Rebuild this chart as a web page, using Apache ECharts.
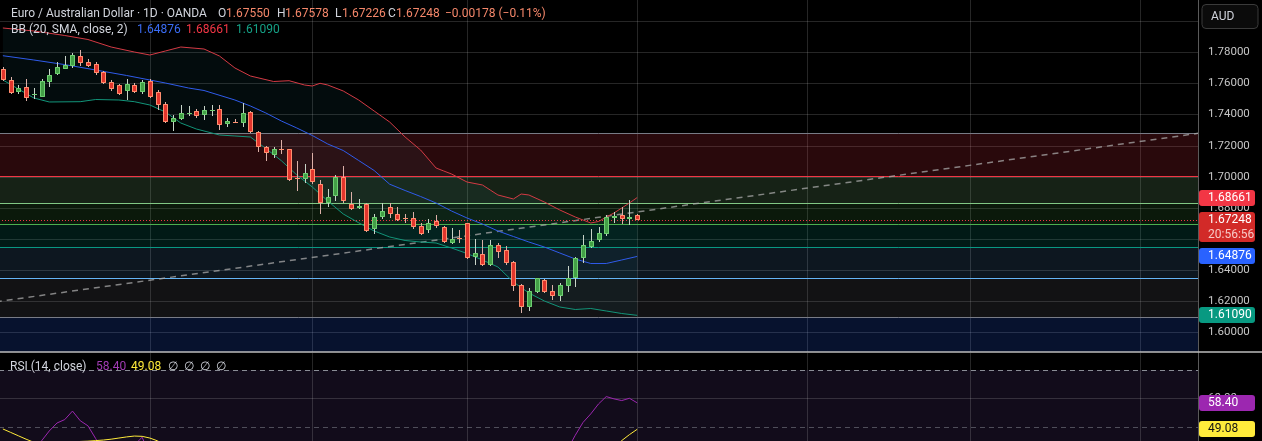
<!DOCTYPE html>
<html>
<head>
<meta charset="utf-8">
<script src="https://cdn.jsdelivr.net/npm/echarts@6/dist/echarts.min.js"></script>
<style>
html,body{margin:0;padding:0;background:#000;overflow:hidden;}
#chart{width:1262px;height:441px;}
</style>
</head>
<body>
<div id="chart"></div>
<script>
// ---------------- DATA ----------------
const SLOTS = 155;
const monthStartIdx = [19, 40, 60, 82, 104, 125, 147];
const priceTicks = [1.60, 1.62, 1.64, 1.66, 1.68, 1.70, 1.72, 1.74, 1.76, 1.78, 1.80];
const priceTickLabels = ['1.60000','1.62000','1.64000','1.66000','1.68000','1.70000','1.72000','1.74000','1.76000','1.78000','1.80000'];
const rsiTicks = [60];
const rsiTickLabels = ['60.00'];
const rsiBandLevels = [70, 50, 30];

const candleOpen = [1.76902,1.76215,1.75463,1.75746,1.75290,1.75141,1.76105,1.76600,1.76941,1.77134,
1.77757,1.77352,1.77224,1.76729,1.76086,1.75893,1.75527,1.75874,1.75443,1.76131,
1.75443,1.74672,1.73496,1.73689,1.74055,1.74209,1.73946,1.74255,1.74332,1.73374,
1.73535,1.73470,1.74171,1.72886,1.71889,1.71382,1.71772,1.71761,1.69890,1.69833,
1.70476,1.69531,1.68329,1.68760,1.69961,1.68226,1.67988,1.68226,1.66620,1.67391,
1.68033,1.67584,1.67332,1.67326,1.66832,1.66575,1.67153,1.66748,1.65758,1.66046,
1.67005,1.64820,1.65032,1.64325,1.65611,1.65289,1.64537,1.63040,1.61645,1.62609,
1.63361,1.62654,1.62333,1.62976,1.63470,1.64756,1.65463,1.65932,1.66298,1.67326,
1.67539,1.67262,1.67550];
const candleHigh = [1.77050,1.76388,1.75893,1.76260,1.75681,1.76247,1.76902,1.77391,1.77757,1.77931,
1.78143,1.77545,1.77391,1.76812,1.76215,1.75958,1.76260,1.76003,1.76215,1.76260,
1.75572,1.74820,1.73997,1.74608,1.74544,1.74364,1.74557,1.74576,1.74589,1.73773,
1.73740,1.74737,1.74235,1.72937,1.71954,1.71928,1.72359,1.71812,1.71041,1.70835,
1.71504,1.69788,1.69190,1.70109,1.70688,1.69036,1.68548,1.68290,1.67603,1.68290,
1.68290,1.68033,1.67603,1.67751,1.67044,1.67262,1.67539,1.66832,1.66684,1.66575,
1.67044,1.65977,1.65932,1.65932,1.65758,1.65546,1.64602,1.63104,1.62828,1.63490,
1.63406,1.63040,1.63149,1.64261,1.64859,1.66253,1.66620,1.66787,1.67539,1.67751,
1.68072,1.68503,1.67578];
const candleLow = [1.76150,1.75296,1.75315,1.74884,1.74974,1.75090,1.75784,1.76536,1.76902,1.76967,
1.77114,1.77069,1.76555,1.75958,1.75527,1.75251,1.74929,1.75398,1.75315,1.75058,
1.74287,1.73470,1.72956,1.73625,1.73901,1.73798,1.73625,1.73901,1.73021,1.73175,
1.73432,1.73175,1.72789,1.71587,1.71028,1.71170,1.71459,1.69743,1.69049,1.69576,
1.69550,1.67603,1.68033,1.68458,1.68329,1.67860,1.67905,1.66465,1.66317,1.67281,
1.67326,1.67134,1.67044,1.66620,1.66234,1.66401,1.66722,1.65720,1.65675,1.65720,
1.64692,1.64325,1.64261,1.64261,1.64756,1.64325,1.62674,1.61260,1.61388,1.62545,
1.62506,1.62076,1.62031,1.62609,1.62931,1.64473,1.65398,1.65823,1.66208,1.67044,
1.66960,1.66896,1.67226];
const candleClose = [1.76215,1.75360,1.75681,1.75039,1.75300,1.76170,1.76536,1.77031,1.77159,1.77821,
1.77326,1.77134,1.76684,1.76003,1.75656,1.75296,1.75958,1.75443,1.76086,1.75103,
1.74589,1.73515,1.73760,1.74107,1.74068,1.73901,1.74287,1.74265,1.73323,1.73593,
1.73522,1.74075,1.72841,1.71909,1.71555,1.71761,1.71762,1.69788,1.69878,1.70219,
1.69679,1.68310,1.68676,1.70000,1.68458,1.67924,1.68117,1.66530,1.67391,1.67796,
1.67584,1.67217,1.67320,1.66748,1.66317,1.67005,1.66832,1.65803,1.65996,1.66036,
1.64756,1.65077,1.64325,1.65611,1.65180,1.64434,1.62995,1.61645,1.62674,1.63470,
1.62609,1.62352,1.63040,1.63470,1.64756,1.65611,1.65887,1.66401,1.67429,1.67494,
1.67262,1.67426,1.67248];

const bbUpperIdx = [0,4,8,11,14,17,19,21,23,26,28,30,32,35,37,39,40,41,42,44,46,48,50,52,54,56,57,58,60,62,63,64,66,67,68,70,72,74,76,77,78,79,80,81,82];
const bbUpperVal = [1.79557,1.79364,1.79075,1.78817,1.78335,1.78014,1.77821,1.78078,1.78335,1.78207,
1.77757,1.76986,1.76472,1.76118,1.76170,1.75893,1.75829,1.76003,1.75893,1.75508,
1.74929,1.74222,1.73515,1.72551,1.71716,1.70559,1.70366,1.70174,1.69659,1.69467,
1.69145,1.68824,1.68567,1.68888,1.68824,1.68374,1.67860,1.67410,1.67024,1.67121,
1.67410,1.67667,1.67988,1.68310,1.68661];
const bbMidIdx = [0,4,8,12,16,19,21,24,26,30,32,34,36,38,40,42,44,46,48,50,52,54,56,58,60,62,64,66,68,70,72,74,76,78,80,82];
const bbMidVal = [1.77776,1.77500,1.77204,1.76857,1.76504,1.76215,1.76022,1.75700,1.75540,1.74929,
1.74544,1.74094,1.73580,1.73130,1.72648,1.72102,1.71684,1.71041,1.70398,1.69518,
1.69113,1.68728,1.68310,1.67796,1.67346,1.66960,1.66510,1.66157,1.65803,1.65482,
1.65096,1.64711,1.64422,1.64422,1.64647,1.64876];
const bbLowIdx = [0,2,4,6,10,12,15,17,19,21,23,25,28,30,32,34,36,38,40,42,44,46,48,50,52,54,56,58,60,62,64,66,68,70,72,74,76,78,80,82];
const bbLowVal = [1.76215,1.75636,1.75058,1.74801,1.74820,1.74961,1.74929,1.74820,1.74608,1.74158,
1.73451,1.73066,1.72680,1.72616,1.72551,1.71812,1.71028,1.70109,1.69338,1.68438,
1.67603,1.67037,1.66510,1.66125,1.65900,1.65803,1.65739,1.65418,1.65064,1.64647,
1.64197,1.63233,1.62526,1.62012,1.61626,1.61465,1.61530,1.61369,1.61208,1.61090];

const fibLevels = [1.7281, 1.7002, 1.6829, 1.6695, 1.6551, 1.6352, 1.6098, 1.5367];
const fibStartIdx = -15;
const trendStart = [-15, 1.6098];
const trendEnd = [155, 1.7282];

const rsiVal = [40,38,39,37,40,45,48.5,51.3,52.5,55.5,
52.1,50.3,45.8,41,38,37,42,43.5,46.3,40,
36,31,33,36,36,35,37,37,33,34,
34,38,32,28,27,29,30,24,25,28,
27,23,26,33,31,29,30,26,30,32,
31,30,30,28,27,30,30,27,28,28,
25,27,25,31,30,28,24,21,27,31,
29,28,32,42,47,51.5,54.5,58,60.6,59.8,
59.2,60,58.4];
const rsiMaVal = [49.2,48.0,46.8,45.6,44.5,43.9,43.6,43.7,44.0,44.4,
44.8,44.9,45.1,45.3,45.6,46.0,46.4,46.7,46.6,46.0,
45.0,43.5,42.3,41.4,40.6,39.6,38.8,38.0,37.0,36.0,
35.0,34.3,33.6,32.8,32.0,31.5,31.0,30.4,29.9,29.6,
29.3,28.9,28.5,28.6,28.6,28.4,28.3,28.0,28.1,28.3,
28.5,28.6,28.7,28.5,28.4,28.6,28.9,28.9,28.9,28.7,
28.5,28.4,28.2,28.3,28.3,28.2,27.9,27.4,27.3,27.4,
27.5,27.6,28.0,29.0,30.5,32.5,35.0,37.6,40.3,42.8,
45.1,47.2,49.08];

const countdownText = '20:56:56';

// ---------------- STYLE ----------------
const PRICE_MIN = 1.58734, PRICE_MAX = 1.81356;
const RSI_MIN = 44.96, RSI_MAX = 75.95;
const PANE_X = -1, PANE_W = 1199;
const GRIDC = 'rgba(255,255,255,0.15)';
const FIB_LINE = ['#787b86','#f23645','#81c784','#4caf50','#089981','#64b5f6','#787b86'];
const FIB_FILL = ['rgba(242,54,69,0.17)','rgba(129,199,132,0.17)','rgba(76,175,80,0.14)','rgba(8,153,129,0.17)','rgba(100,181,246,0.13)','rgba(120,123,134,0.15)','rgba(41,98,255,0.18)'];
const C_UP = '#43a047', C_UP_B = '#6fcf72', C_UP_W = '#c8d4c8';
const C_DN = '#e2352d', C_DN_B = '#ff9070', C_DN_W = '#dcb0a8';
const FONT = 'Roboto, "Open Sans", sans-serif';

const lastClose = candleClose[candleClose.length - 1];
const slots = Array.from({length: SLOTS}, (_, i) => String(i));
const pairs = (idx, val) => idx.map((k, j) => [k, val[j]]);
const candleData = candleOpen.map((o, i) => [i, o, candleHigh[i], candleLow[i], candleClose[i]]);

function crisp(v) { return Math.round(v) + 0.5; }
function txt(x, y, t, fill, font, align) {
  return {type: 'text', x: x, y: y, style: {text: t, fill: fill, font: font,
    align: align || 'left', verticalAlign: 'middle', textAlign: align || 'left', textVerticalAlign: 'middle'}};
}
function hline(x1, x2, y, stroke, dash) {
  return {type: 'line', shape: {x1: x1, y1: y, x2: x2, y2: y}, style: {stroke: stroke, lineWidth: 1, lineDash: dash || null}};
}

function mainBg(params, api) {
  const cs = params.coordSys;
  const L = cs.x, R = cs.x + cs.width, T = cs.y, B = cs.y + cs.height;
  const X = k => api.coord([k, PRICE_MIN])[0];
  const Y = v => api.coord([0, v])[1];
  const ch = [];
  priceTicks.forEach(v => ch.push(hline(L, R, crisp(Y(v)), GRIDC)));
  monthStartIdx.forEach(k => { const x = crisp(X(k)); ch.push({type: 'line', shape: {x1: x, y1: T, x2: x, y2: B}, style: {stroke: GRIDC, lineWidth: 1}}); });
  const poly = [];
  bbUpperIdx.forEach((k, j) => poly.push(api.coord([k, bbUpperVal[j]])));
  for (let j = bbLowIdx.length - 1; j >= 0; j--) poly.push(api.coord([bbLowIdx[j], bbLowVal[j]]));
  ch.push({type: 'polygon', shape: {points: poly}, style: {fill: 'rgba(40,150,170,0.08)'}});
  const fx = X(fibStartIdx);
  for (let j = 0; j < fibLevels.length - 1; j++) {
    const ya = Y(fibLevels[j]), yb = Y(fibLevels[j + 1]);
    ch.push({type: 'rect', shape: {x: fx, y: ya, width: R - fx, height: yb - ya}, style: {fill: FIB_FILL[j]}});
  }
  for (let j = 0; j < FIB_LINE.length; j++) ch.push(hline(fx, R, crisp(Y(fibLevels[j])), FIB_LINE[j]));
  const p1 = api.coord(trendStart), p2 = api.coord(trendEnd);
  ch.push({type: 'line', shape: {x1: p1[0], y1: p1[1], x2: p2[0], y2: p2[1]}, style: {stroke: 'rgba(170,170,170,0.75)', lineWidth: 1.5, lineDash: [6, 5]}});
  ch.push(hline(L, R, crisp(Y(lastClose)), '#f23645', [1, 2]));
  return {type: 'group', children: ch};
}

function renderCandle(params, api) {
  const k = api.value(0), o = api.value(1), h = api.value(2), l = api.value(3), c = api.value(4);
  const up = c >= o;
  const xc = Math.round(api.coord([k, o])[0]);
  const yO = api.coord([k, o])[1], yC = api.coord([k, c])[1];
  const yH = api.coord([k, h])[1], yL = api.coord([k, l])[1];
  let top = Math.round(Math.min(yO, yC)), bot = Math.round(Math.max(yO, yC));
  if (bot - top < 1) bot = top + 1;
  const ch = [{type: 'line', shape: {x1: xc + 0.5, y1: Math.round(yH), x2: xc + 0.5, y2: Math.round(yL)}, style: {stroke: up ? C_UP_W : C_DN_W, lineWidth: 1}}];
  if (bot - top <= 2) {
    ch.push({type: 'rect', shape: {x: xc - 2, y: top, width: 5, height: bot - top}, style: {fill: up ? C_UP_B : C_DN_B}});
  } else {
    ch.push({type: 'rect', shape: {x: xc - 2, y: top, width: 5, height: bot - top}, style: {fill: up ? C_UP : C_DN}});
    ch.push({type: 'rect', shape: {x: xc - 1.5, y: top + 0.5, width: 4, height: bot - top - 1}, style: {fill: 'none', stroke: up ? C_UP_B : C_DN_B, lineWidth: 1}});
  }
  return {type: 'group', children: ch};
}

function badge(x, y, label, bg, fg) {
  return [{type: 'rect', shape: {x: x, y: Math.round(y) - 8, width: 56, height: 16, r: 3}, style: {fill: bg}},
          txt(x + 9, Math.round(y), label, fg, '12px ' + FONT)];
}

function mainLabels(params, api) {
  const cs = params.coordSys;
  const R = cs.x + cs.width;
  const Y = v => api.coord([0, v])[1];
  let ch = [];
  priceTicks.forEach((v, j) => ch.push(txt(R + 10, Math.round(Y(v)), priceTickLabels[j], '#c5c5c5', '11.5px ' + FONT)));
  ch = ch.concat(badge(R + 1, Y(bbUpperVal[bbUpperVal.length - 1]), bbUpperVal[bbUpperVal.length - 1].toFixed(5), '#f23645', '#ffffff'));
  const yc = Math.round(Y(lastClose));
  ch.push({type: 'rect', shape: {x: R + 1, y: yc - 8, width: 56, height: 30, r: 3}, style: {fill: '#d22a28'}});
  ch.push(txt(R + 10, yc, lastClose.toFixed(5), '#ffffff', '12px ' + FONT));
  ch.push(txt(R + 10, yc + 15, countdownText, '#f6c9c6', '12px ' + FONT));
  ch = ch.concat(badge(R + 1, Y(bbMidVal[bbMidVal.length - 1]), bbMidVal[bbMidVal.length - 1].toFixed(5), '#2962ff', '#ffffff'));
  ch = ch.concat(badge(R + 1, Y(bbLowVal[bbLowVal.length - 1]), bbLowVal[bbLowVal.length - 1].toFixed(5), '#089981', '#ffffff'));
  return {type: 'group', children: ch};
}

function rsiBg(params, api) {
  const cs = params.coordSys;
  const L = cs.x, R = cs.x + cs.width, T = cs.y, B = cs.y + cs.height;
  const X = k => api.coord([k, 50])[0];
  const Y = v => api.coord([0, v])[1];
  const ch = [];
  const y70 = Y(rsiBandLevels[0]), y30 = Y(rsiBandLevels[2]);
  ch.push({type: 'rect', shape: {x: L, y: y70, width: R - L, height: y30 - y70}, style: {fill: 'rgba(126,87,194,0.14)'}});
  rsiTicks.forEach(v => ch.push(hline(L, R, crisp(Y(v)), GRIDC)));
  monthStartIdx.forEach(k => { const x = crisp(X(k)); ch.push({type: 'line', shape: {x1: x, y1: T, x2: x, y2: B}, style: {stroke: GRIDC, lineWidth: 1}}); });
  ch.push(hline(L, R, crisp(y70), '#8a8d96', [5, 4]));
  ch.push(hline(L, R, crisp(Y(rsiBandLevels[1])), 'rgba(120,123,134,0.6)', [5, 4]));
  return {type: 'group', children: ch};
}

function rsiLabels(params, api) {
  const cs = params.coordSys;
  const R = cs.x + cs.width;
  const Y = v => api.coord([0, v])[1];
  let ch = [];
  rsiTicks.forEach((v, j) => ch.push(txt(R + 10, Math.round(Y(v)), rsiTickLabels[j], '#c5c5c5', '11.5px ' + FONT)));
  const r = rsiVal[rsiVal.length - 1], m = rsiMaVal[rsiMaVal.length - 1];
  ch = ch.concat(badge(R + 1, Y(r), r.toFixed(2), '#9c27b0', '#ffffff'));
  ch = ch.concat(badge(R + 1, Y(m), m.toFixed(2), '#ffeb3b', '#131313'));
  return {type: 'group', children: ch};
}

// ---------------- CHART ----------------
const chart = echarts.init(document.getElementById('chart'), null, {renderer: 'canvas', width: 1262, height: 441});

const HF = '12px ' + FONT;
const VAL = '#f5876a';
const headerItems = [
  [11, 14, 'Euro / Australian Dollar · 1D · OANDA', '#d1d4dc'],
  [218, 14, 'O', '#d1d4dc'], [226, 14, '1.67550', VAL],
  [277, 14, 'H', '#d1d4dc'], [285, 14, '1.67578', VAL],
  [335, 14, 'L', '#d1d4dc'], [342, 14, '1.67226', VAL],
  [388, 14, 'C', '#d1d4dc'], [396, 14, '1.67248', VAL],
  [445, 14, '−0.00178 (−0.11%)', VAL],
  [11, 30, 'BB (20, SMA, close, 2)', '#d1d4dc'],
  [137, 30, '1.64876', '#3a6cf4'], [186, 30, '1.68661', '#f23645'], [236, 30, '1.61090', '#15a085'],
  [10, 367, 'RSI (14, close)', '#d1d4dc'],
  [96, 367, '58.40', '#a23cb4'], [131, 367, '49.08', '#ffeb3b'], [168, 367, '∅  ∅  ∅  ∅', '#d1d4dc']
];
const graphicEls = headerItems.map(it => Object.assign(txt(it[0], it[1], it[2], it[3], HF), {z: 100, silent: true}));
graphicEls.push({type: 'line', shape: {x1: 1198.5, y1: 0, x2: 1198.5, y2: 441}, style: {stroke: '#5a5a5a', lineWidth: 1}, z: 99, silent: true});
graphicEls.push({type: 'line', shape: {x1: 0, y1: 352, x2: 1262, y2: 352}, style: {stroke: '#bdbdbd', lineWidth: 1.5}, z: 101, silent: true});
graphicEls.push({type: 'rect', shape: {x: 1202, y: 4.5, width: 56, height: 24, r: 4}, style: {fill: '#0b0b0b', stroke: '#3a3a3a', lineWidth: 1}, z: 101, silent: true});
graphicEls.push(Object.assign(txt(1211, 16.5, 'AUD', '#d1d4dc', '12px ' + FONT), {z: 102, silent: true}));

const option = {
  backgroundColor: '#000000',
  animation: false,
  grid: [
    {left: PANE_X, top: 0, width: PANE_W, height: 352, outerBoundsMode: 'none'},
    {left: PANE_X, top: 353, width: PANE_W, height: 88, outerBoundsMode: 'none'}
  ],
  xAxis: [
    {type: 'category', gridIndex: 0, data: slots, boundaryGap: true, show: false},
    {type: 'category', gridIndex: 1, data: slots, boundaryGap: true, show: false}
  ],
  yAxis: [
    {type: 'value', gridIndex: 0, min: PRICE_MIN, max: PRICE_MAX, show: false, splitLine: {show: false}},
    {type: 'value', gridIndex: 1, min: RSI_MIN, max: RSI_MAX, show: false, splitLine: {show: false}}
  ],
  series: [
    {type: 'custom', name: 'mainBg', xAxisIndex: 0, yAxisIndex: 0, data: [[0, 1.7]], renderItem: mainBg, clip: true, z: 1, silent: true},
    {type: 'line', name: 'BB upper', xAxisIndex: 0, yAxisIndex: 0, data: pairs(bbUpperIdx, bbUpperVal), symbol: 'none', showSymbol: false, lineStyle: {color: '#d43a44', width: 1}, z: 3, silent: true},
    {type: 'line', name: 'BB basis', xAxisIndex: 0, yAxisIndex: 0, data: pairs(bbMidIdx, bbMidVal), symbol: 'none', showSymbol: false, lineStyle: {color: '#2f5bea', width: 1}, z: 3, silent: true},
    {type: 'line', name: 'BB lower', xAxisIndex: 0, yAxisIndex: 0, data: pairs(bbLowIdx, bbLowVal), symbol: 'none', showSymbol: false, lineStyle: {color: '#129479', width: 1}, z: 3, silent: true},
    {type: 'custom', name: 'EURAUD', xAxisIndex: 0, yAxisIndex: 0, data: candleData, encode: {x: 0, y: [1, 2, 3, 4]}, renderItem: renderCandle, clip: true, z: 5, silent: true},
    {type: 'custom', name: 'mainLabels', xAxisIndex: 0, yAxisIndex: 0, data: [[0, 1.7]], renderItem: mainLabels, clip: false, z: 20, silent: true},
    {type: 'custom', name: 'rsiBg', xAxisIndex: 1, yAxisIndex: 1, data: [[0, 60]], renderItem: rsiBg, clip: true, z: 1, silent: true},
    {type: 'line', name: 'RSI', xAxisIndex: 1, yAxisIndex: 1, data: rsiVal, symbol: 'none', showSymbol: false, lineStyle: {color: '#9c27b0', width: 1}, z: 3, clip: true, silent: true},
    {type: 'line', name: 'RSI MA', xAxisIndex: 1, yAxisIndex: 1, data: rsiMaVal, symbol: 'none', showSymbol: false, lineStyle: {color: '#ffeb3b', width: 1}, z: 3, clip: true, silent: true},
    {type: 'custom', name: 'rsiLabels', xAxisIndex: 1, yAxisIndex: 1, data: [[0, 60]], renderItem: rsiLabels, clip: false, z: 20, silent: true}
  ],
  graphic: {elements: graphicEls}
};
chart.setOption(option);
</script>
</body>
</html>
